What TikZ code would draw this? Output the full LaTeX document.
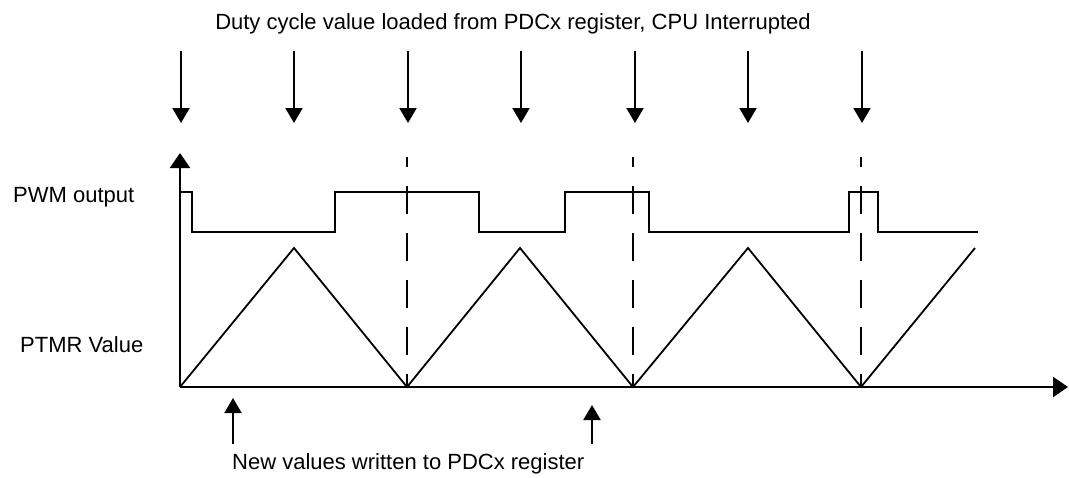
\documentclass[tikz,border=0pt]{standalone}
\usepackage{fontspec}
\setmainfont{Liberation Sans}
\usetikzlibrary{arrows.meta}
\tikzset{lbl/.style={font=\fontsize{22}{26}\selectfont, inner sep=0pt},
  axis/.style={line width=2.2pt,-{Triangle[width=20pt,length=15pt]}},
  tick/.style={line width=2pt,-{Triangle[width=17pt,length=15pt]}},
  wave/.style={line width=1.8pt,line join=miter},
  guide/.style={line width=2pt,dash pattern=on 28pt off 19pt,dash phase=18pt}}

\begin{document}
\begin{tikzpicture}[x=1pt,y=-1pt]
\useasboundingbox (0,0) rectangle (1069,477);
\node[lbl,anchor=base] (title) at (513,29) {Duty cycle value loaded from PDCx register, CPU Interrupted};
\node[lbl,anchor=base west] (pwm) at (13,202) {PWM output};
\node[lbl,anchor=base west] (ptmr) at (20,352) {PTMR Value};
\node[lbl,anchor=base west] (newval) at (232,469) {New values written to PDCx register};

\coordinate (o) at (180,387);
\coordinate (ytop) at (180,153);
\coordinate (xend) at (1068,387);
\draw[axis] (o) -- (ytop);
\draw[axis] (o) -- (xend);

% interrupt arrows
\foreach \x [count=\i] in {181,294,408,521,635,748,862}{
  \coordinate (d\i) at (\x,51);
  \coordinate (e\i) at (\x,123);
  \draw[tick] (d\i) -- (e\i);
}

% counter zeros
\foreach \x [count=\i] in {407,633,861}{
  \coordinate (g\i) at (\x,157);
  \coordinate (z\i) at (\x,387);
  \draw[guide] (g\i) -- (z\i);
}

% PTMR
\draw[wave] (o) -- (294,248) -- (z1) -- (520,248) -- (z2) -- (748,248) -- (z3) -- (975,248);

% PWM
\draw[wave] (180,192) -| (192,232) -| (335,192) -| (479,232) -| (565,192) -| (649,232)
  -| (849,192) -| (878,232) -- (978,232);

% write arrows
\foreach \x/\t [count=\i] in {233/398,592/405}{
  \coordinate (u\i) at (\x,444);
  \coordinate (w\i) at (\x,\t);
  \draw[tick] (u\i) -- (w\i);
}

\end{tikzpicture}
\end{document}
